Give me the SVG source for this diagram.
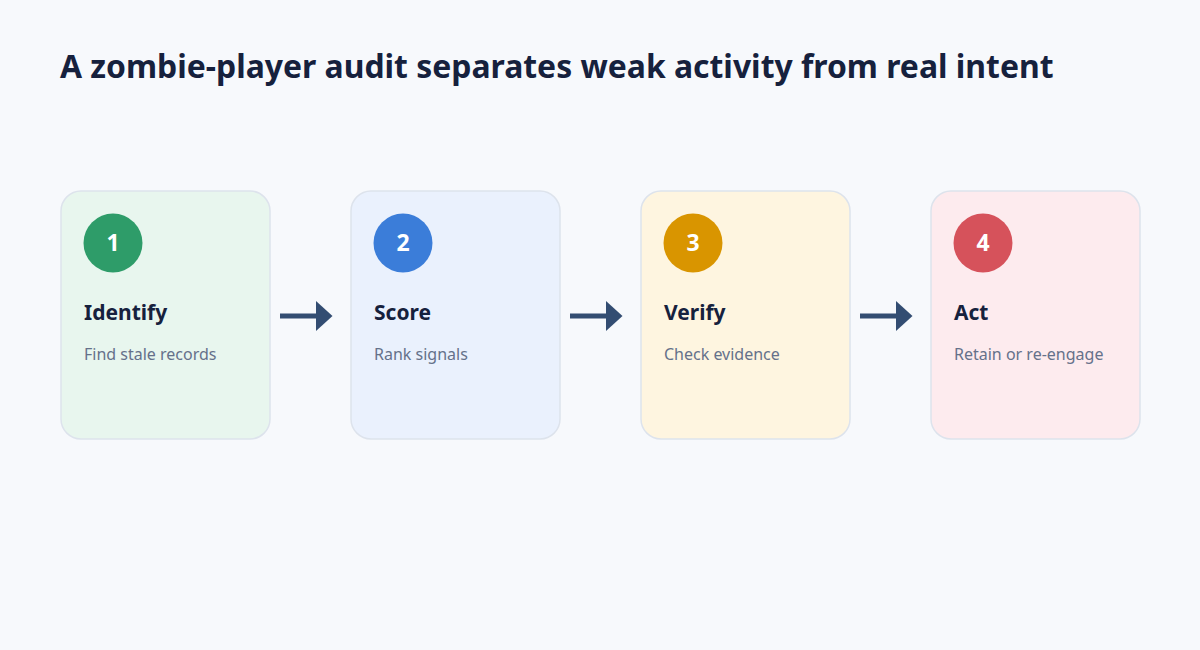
<svg xmlns="http://www.w3.org/2000/svg" width="1200" height="650" viewBox="0 0 1200 650">
<defs>
<style>
.bg{fill:#f7f9fc}
.card{stroke:#dde3ec;stroke-width:1.5}
.num{font-family:"Noto Sans","Open Sans",sans-serif;font-size:23px;font-weight:700;fill:#ffffff;text-anchor:middle}
.ttl{font-family:"Noto Sans","Open Sans",sans-serif;font-size:21px;font-weight:700;fill:#16213d}
.sub{font-family:"Noto Sans","Open Sans",sans-serif;font-size:16px;fill:#65718a}
.head{font-family:"Noto Sans","Open Sans",sans-serif;font-size:31.9px;font-weight:700;fill:#16213d}
.conn{stroke:#334d72;stroke-width:5;fill:none}
</style>
<marker id="ah" markerWidth="4" markerHeight="6" refX="0.2" refY="3" orient="auto" markerUnits="strokeWidth" viewBox="0 0 4 6">
<path d="M0,0 L3.3,3 L0,6 Z" fill="#334d72"/>
</marker>
</defs>
<rect class="bg" x="0" y="0" width="1200" height="650"/>
<text class="head" x="60" y="78">A zombie-player audit separates weak activity from real intent</text>
<g id="connectors">
<line class="conn" x1="280" y1="316" x2="317" y2="316" marker-end="url(#ah)"/>
<line class="conn" x1="570" y1="316" x2="607" y2="316" marker-end="url(#ah)"/>
<line class="conn" x1="860" y1="316" x2="897" y2="316" marker-end="url(#ah)"/>
</g>
<g id="step1">
<rect class="card" x="61" y="191" width="209" height="248" rx="20" fill="#e8f6ee"/>
<circle cx="113" cy="243" r="29.5" fill="#2e9c69"/>
<text class="num" x="113" y="251">1</text>
<text class="ttl" x="84" y="320">Identify</text>
<text class="sub" x="84" y="360">Find stale records</text>
</g>
<g id="step2">
<rect class="card" x="351" y="191" width="209" height="248" rx="20" fill="#eaf1fd"/>
<circle cx="403" cy="243" r="29.5" fill="#3b7dd9"/>
<text class="num" x="403" y="251">2</text>
<text class="ttl" x="374" y="320">Score</text>
<text class="sub" x="374" y="360">Rank signals</text>
</g>
<g id="step3">
<rect class="card" x="641" y="191" width="209" height="248" rx="20" fill="#fef5e0"/>
<circle cx="693" cy="243" r="29.5" fill="#d99500"/>
<text class="num" x="693" y="251">3</text>
<text class="ttl" x="664" y="320">Verify</text>
<text class="sub" x="664" y="360">Check evidence</text>
</g>
<g id="step4">
<rect class="card" x="931" y="191" width="209" height="248" rx="20" fill="#fdebee"/>
<circle cx="983" cy="243" r="29.5" fill="#d6525b"/>
<text class="num" x="983" y="251">4</text>
<text class="ttl" x="954" y="320">Act</text>
<text class="sub" x="954" y="360">Retain or re-engage</text>
</g>
</svg>
